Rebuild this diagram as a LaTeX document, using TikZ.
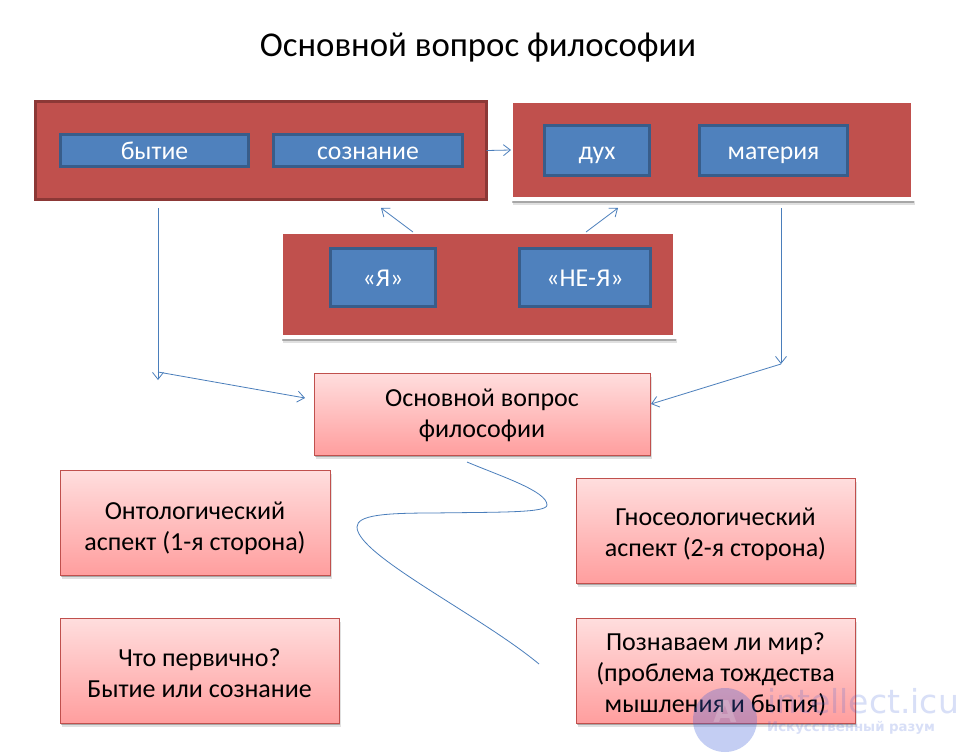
\documentclass[tikz,border=0pt]{standalone}
\usepackage{fontspec}
\setmainfont{Carlito}
\newfontfamily\wmfont{DejaVu Sans}
\usetikzlibrary{arrows.meta,shadows,positioning}
\definecolor{redbox}{HTML}{C0504D}
\definecolor{reddark}{HTML}{8C3836}
\definecolor{bluebox}{HTML}{4F81BD}
\definecolor{bluedark}{HTML}{385D8A}
\definecolor{linkblue}{HTML}{4A7EBB}
\definecolor{wmblue}{HTML}{3C5FD8}
\newcommand{\lowertext}[1]{\rule{0pt}{#1}}
\tikzset{
  px/.style={x=1pt,y=-1pt},
  shad/.style={drop shadow={shadow xshift=1.5pt,shadow yshift=-3.5pt,fill=black,opacity=.12},
               drop shadow={shadow xshift=1pt,shadow yshift=-2pt,fill=black,opacity=.25}},
  panelshad/.style={drop shadow={shadow xshift=1.5pt,shadow yshift=-5.5pt,fill=black,opacity=.12},
               drop shadow={shadow xshift=1pt,shadow yshift=-4pt,fill=black,opacity=.25}},
  box/.style n args={2}{minimum width=#1,minimum height=#2,inner sep=0pt,outer sep=0pt},
  darkpanel/.style={draw=reddark,line width=3pt,fill=redbox},
  whitepanel/.style={draw=white,line width=4pt,fill=redbox,panelshad},
  bluecell/.style={draw=bluedark,line width=3pt,fill=bluebox,text=white,text height=19pt,text depth=2pt,font=\fontsize{25.7}{30}\selectfont},
  pinkbox/.style={draw=redbox,line width=1pt,top color=red!13,bottom color=red!38!white,shad,
    align=center,text=black,font=\fontsize{26}{31}\selectfont},
  link/.style={draw=linkblue,line width=.8pt},
  linkarrow/.style={link,-{Straight Barb[length=7pt,width=11pt,line width=.8pt]}},
}
\begin{document}
\begin{tikzpicture}[px]
\useasboundingbox (0,0) rectangle (961,755);
\fill[white] (0,0) rectangle (961,755);
\node[anchor=center,font=\fontsize{34.8}{40}\selectfont] (title) at (478,48) {Основной вопрос философии};

\node[darkpanel,box={451pt}{98pt}] (pa) at (261,150.5) {};
\node[bluecell,box={188pt}{32pt}] (byt) at (154.5,150.5) {бытие};
\node[bluecell,box={189pt}{32pt}] (soz) at (368,150.5) {сознание};

\node[whitepanel,box={402pt}{98pt}] (pb) at (712,150) {};
\node[bluecell,box={105pt}{50pt}] (duh) at (597,150.5) {дух};
\node[bluecell,box={148pt}{50pt}] (mat) at (773.5,150.5) {материя};

\node[whitepanel,box={394pt}{105pt}] (pc) at (478,284.5) {};
\node[bluecell,box={105pt}{58pt}] (ya) at (383,277.5) {«Я»};
\node[bluecell,box={131pt}{58pt}] (neya) at (585,277.5) {«НЕ-Я»};

\node[pinkbox,box={336pt}{82pt}] (osn) at (482,414) {\lowertext{21pt}Основной вопрос\\философии};
\node[pinkbox,box={270pt}{105pt}] (ont) at (195,522.5) {\lowertext{29pt}Онтологический\\аспект (1-я сторона)};
\node[pinkbox,box={279pt}{105pt}] (gno) at (715.5,530.5) {\lowertext{25pt}Гносеологический\\аспект (2-я сторона)};
\node[pinkbox,box={279pt}{105pt}] (chto) at (199.5,670.5) {\lowertext{23pt}Что первично?\\Бытие или сознание};
\node[pinkbox,box={279pt}{105pt}] (poz) at (715.5,670.5) {\lowertext{25pt}Познаваем ли мир?\\(проблема тождества\\мышления и бытия)};

\coordinate (a1) at (413,232);
\coordinate (a2) at (381,208);
\coordinate (b1) at (586,232);
\coordinate (b2) at (618,208);
\coordinate (c1) at (158,208);
\coordinate (c2) at (158,380);
\coordinate (c3) at (158,372);
\coordinate (c4) at (305,398);
\coordinate (d1) at (781,208);
\coordinate (d2) at (781,364);
\coordinate (d3) at (651,404);
\coordinate (e0) at (467,462);
\coordinate (e1) at (547,505);
\coordinate (e2) at (357,527);
\coordinate (e3) at (539,664);

\draw[linkarrow] (pa.east) -- (pb.west);
\draw[linkarrow] (a1) -- (a2);
\draw[linkarrow] (b1) -- (b2);
\draw[linkarrow] (c1) -- (c2);
\draw[linkarrow] (c3) -- (c4);
\draw[linkarrow] (d1) -- (d2);
\draw[linkarrow] (d2) -- (d3);
\draw[link] (e0) .. controls (500,476) and (547,491) .. (e1)
  .. controls (547,513) and (500,512) .. (433,513)
  .. controls (385,513) and (357,515) .. (e2)
  .. controls (357,555) and (480,615) .. (e3);

% watermark
\fill[wmblue,opacity=.3] (725,720) circle (32);
\node[font=\wmfont\bfseries\fontsize{30}{30}\selectfont,text=white,opacity=.2] (wma) at (725,712) {A};
\node[anchor=west,font=\wmfont\fontsize{33}{33}\selectfont,text=wmblue,opacity=.2,inner sep=0pt] (wm1) at (767,701) {intellect.icu};
\node[anchor=west,font=\wmfont\bfseries\fontsize{13.3}{15}\selectfont,text=wmblue,opacity=.2,inner sep=0pt] (wm2) at (767,728) {Искусственный разум};
\end{tikzpicture}
\end{document}
